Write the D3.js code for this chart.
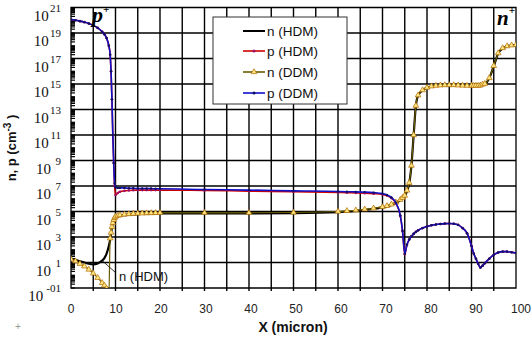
<!DOCTYPE html>
<html><head><meta charset="utf-8">
<script src="https://cdn.jsdelivr.net/npm/d3@7"></script>
<style>body{margin:0;background:#fff}svg{display:block}</style>
</head><body>
<svg id="c" width="531" height="345"></svg>
<script>
const xMicron = [0,1,2,3,4,5,6,7,7.5,8,8.5,8.8,9,9.2,9.4,9.6,9.8,10,10.5,11,12,13,14,15,16,17,18,19,20,30,40,50,60,62,64,66,68,70,71,72,73,74,74.5,75,75.5,76,76.5,77,77.5,78,79,80,81,82,83,84,85,86,87,88,89,90,90.5,91,91.5,92,92.5,93,94,95,96,97,98,99,100];
const nHDM = [1.3,1.2,1.1,1.0,0.9,0.85,0.92,1.15,1.35,1.7,2.3,2.8,3.3,3.75,4.05,4.3,4.45,4.55,4.62,4.67,4.72,4.75,4.78,4.8,4.81,4.82,4.83,4.84,4.85,4.85,4.85,4.87,4.95,5.0,5.05,5.12,5.2,5.32,5.4,5.52,5.68,5.9,6.05,6.2,6.6,7.2,8.6,11.0,13.3,14.1,14.5,14.7,14.8,14.85,14.88,14.9,14.9,14.9,14.88,14.86,14.85,14.85,14.85,14.85,14.85,14.87,14.95,15.0,15.45,16.4,17.4,17.8,17.95,18.02,18.05];
const pHDM = [20.05,20.0,19.93,19.85,19.75,19.6,19.4,19.1,18.9,18.6,18.0,17.3,16.0,13.8,11.0,8.8,7.0,6.3,6.45,6.55,6.62,6.65,6.67,6.68,6.68,6.68,6.68,6.68,6.68,6.65,6.6,6.55,6.5,6.48,6.46,6.44,6.4,6.33,6.25,6.05,5.65,4.65,3.45,1.65,2.4,2.8,3.05,3.25,3.4,3.52,3.7,3.82,3.92,3.98,4.02,4.05,4.06,4.04,3.95,3.7,3.3,2.3,1.7,1.3,0.9,0.6,0.75,0.95,1.3,1.6,1.78,1.85,1.85,1.8,1.75];
const nDDM = [1.25,1.1,0.9,0.7,0.45,0.15,-0.2,-0.6,-0.8,-1.05,-1.6,2.9,3.35,3.8,4.1,4.35,4.5,4.6,4.67,4.72,4.77,4.8,4.83,4.85,4.86,4.87,4.88,4.89,4.9,4.9,4.9,4.92,5.0,5.05,5.1,5.17,5.25,5.36,5.44,5.56,5.72,5.93,6.08,6.25,6.65,7.25,8.6,11.0,13.3,14.12,14.52,14.72,14.82,14.87,14.9,14.92,14.92,14.92,14.9,14.88,14.87,14.87,14.87,14.87,14.87,14.89,14.97,15.02,15.47,16.42,17.42,17.82,17.97,18.04,18.07];
const pDDM = [20.05,20.0,19.93,19.85,19.75,19.6,19.4,19.1,18.9,18.6,18.0,17.3,16.0,13.8,11.0,8.8,7.2,6.9,6.85,6.85,6.85,6.82,6.82,6.8,6.8,6.8,6.8,6.78,6.78,6.72,6.68,6.62,6.57,6.55,6.54,6.52,6.48,6.4,6.3,6.1,5.7,4.7,3.5,1.7,2.4,2.8,3.05,3.25,3.4,3.52,3.7,3.82,3.92,3.98,4.02,4.05,4.06,4.04,3.95,3.7,3.3,2.3,1.7,1.3,0.9,0.6,0.75,0.95,1.3,1.6,1.78,1.85,1.85,1.8,1.75];

const xTicks = [0,10,20,30,40,50,60,70,80,90,100];
const xGrid = [5,10,15,20,25,30,35,40,45,50,55,60,65,70,75,80,85,90,95];
const yExponents = [21,19,17,15,13,11,9,7,5,3,1,-1];
const yExpLabels = ["21","19","17","15","13","11","9","7","5","3","1","-01"];
const seriesNames = ["n (HDM)","p (HDM)","n (DDM)","p (DDM)"];

const svg = d3.select("#c");
const L = 71, R = 516, T = 7.5, B = 288;
const xs = d3.scaleLinear().domain([0,100]).range([L,R]);
const ys = d3.scaleLog().domain([1e-1,1e21]).range([B,T]);
const serif = "'Liberation Serif','Times New Roman',serif";
const sans = "'Liberation Sans',Arial,sans-serif";

svg.append("defs").append("clipPath").attr("id","clip")
  .append("rect").attr("x",L).attr("y",T).attr("width",R-L).attr("height",B-T);

// grid, built as individual line elements via data joins
const vg = svg.append("g").attr("stroke","#000").attr("stroke-width",1.4);
vg.selectAll("line").data(xGrid).enter().append("line")
  .attr("x1",d=>xs(d)).attr("x2",d=>xs(d)).attr("y1",T).attr("y2",B+3);
const hg = svg.append("g").attr("stroke","#000").attr("stroke-width",1.4);
hg.selectAll("line").data(yExponents.slice(1,-1)).enter().append("line")
  .attr("x1",L).attr("x2",R).attr("y1",d=>ys(Math.pow(10,d))).attr("y2",d=>ys(Math.pow(10,d)));
const minorVals = [];
for (let e=-1; e<21; e++) for (let k=1;k<10;k++) minorVals.push(k*Math.pow(10,e));
const mg = svg.append("g").attr("stroke","#000").attr("stroke-width",1.2);
mg.selectAll("line").data(minorVals).enter().append("line")
  .attr("x1",L).attr("x2",L+4).attr("y1",d=>ys(d)).attr("y2",d=>ys(d));

svg.append("path")
  .attr("d",`M${L},${T}H${R}V${B}H${L}Z`)
  .style("fill","none").style("stroke","#000").style("stroke-width","1.3px");

const yl = svg.append("g").attr("font-family",serif).attr("fill","#111");
yExponents.forEach((e,i)=>{
  const yy = ys(Math.pow(10,e));
  const lab = yExpLabels[i];
  const ew = lab.length*5.6;
  const tenEnd = Math.min(51, 61-ew-1);
  yl.append("text").attr("x",tenEnd).attr("y",yy+13).attr("text-anchor","end").attr("font-size",15).text("10");
  yl.append("text").attr("x",61).attr("y",yy+4).attr("text-anchor","end").attr("font-size",11).text(lab);
});

svg.append("g").selectAll("text").data(xTicks).join("text")
  .attr("x",d=>xs(d)+d*0.05).attr("y",313).attr("text-anchor","middle")
  .attr("font-family",sans).attr("font-size",12).attr("fill","#222").text(d=>d);

svg.append("text").attr("x",293).attr("y",332).attr("text-anchor","middle")
  .attr("font-family",sans).attr("font-weight","bold").attr("font-size",14).attr("fill","#111")
  .text("X  (micron)");
const yt = svg.append("text").attr("transform","translate(16,148) rotate(-90)")
  .attr("text-anchor","middle").attr("font-family",sans).attr("font-weight","bold")
  .attr("font-size",13).attr("fill","#111");
yt.append("tspan").text("n, p (cm");
yt.append("tspan").attr("dy",-5).attr("font-size",10).text("-3");
yt.append("tspan").attr("dy",5).text(" )");

svg.append("text").attr("x",18).attr("y",330).attr("text-anchor","middle")
  .attr("font-family",sans).attr("font-size",10).attr("fill","#999").text("+");

const plot = svg.append("g").attr("clip-path","url(#clip)");
const mk = arr => arr.map((v,i)=>[xMicron[i], Math.pow(10,v)]);
const lineGen = d3.line().x(d=>xs(d[0])).y(d=>ys(d[1])).curve(d3.curveMonotoneX);
const nH = mk(nHDM), pH = mk(pHDM), nD = mk(nDDM), pD = mk(pDDM);

plot.append("path").attr("d",lineGen(nH)).attr("fill","none").attr("stroke","#000").attr("stroke-width",2.2);
plot.append("path").attr("d",lineGen(nD)).attr("fill","none").attr("stroke","#6b5a00").attr("stroke-width",1.2);
const tri = d3.symbol().type(d3.symbolTriangle).size(14);
plot.append("g").selectAll("path").data(nD).join("path")
  .attr("transform",d=>`translate(${xs(d[0])},${ys(d[1])})`).attr("d",tri)
  .attr("fill","#ffe680").attr("stroke","#b06a00").attr("stroke-width",0.7);
plot.append("path").attr("d",lineGen(pH)).attr("fill","none").attr("stroke","#d00000").attr("stroke-width",1.6);
plot.append("g").selectAll("circle").data(pH).join("circle")
  .attr("cx",d=>xs(d[0])).attr("cy",d=>ys(d[1])).attr("r",1.3).attr("fill","#a0106a");
plot.append("path").attr("d",lineGen(pD)).attr("fill","none").attr("stroke","#1010c8").attr("stroke-width",1.6);
plot.append("g").selectAll("circle").data(pD).join("circle")
  .attr("cx",d=>xs(d[0])).attr("cy",d=>ys(d[1])).attr("r",1.2).attr("fill","#101060");

const ai = xMicron.indexOf(7);
svg.append("line").attr("x1",116).attr("y1",273).attr("x2",xs(xMicron[ai])).attr("y2",ys(Math.pow(10,nHDM[ai])))
  .attr("stroke","#000").attr("stroke-width",0.8);
svg.append("text").attr("x",119).attr("y",281).attr("font-family",sans).attr("font-size",13)
  .attr("fill","#111").text("n (HDM)");

const pp = svg.append("text").attr("x",92).attr("y",22).attr("font-family",serif)
  .attr("font-style","italic").attr("font-weight","bold").attr("font-size",22).attr("fill","#000");
pp.append("tspan").text("p");
pp.append("tspan").attr("dy",-9).attr("font-size",11).text("+");
const nn = svg.append("text").attr("x",497).attr("y",25).attr("font-family",serif)
  .attr("font-style","italic").attr("font-weight","bold").attr("font-size",21).attr("fill","#000");
nn.append("tspan").text("n");
nn.append("tspan").attr("dy",-11).attr("font-size",11).text("+");

const lg = svg.append("g");
lg.append("rect").attr("x",213).attr("y",17).attr("width",134).attr("height",87)
  .attr("fill","#fff").attr("stroke","#333").attr("stroke-width",1);
const legY = [31,51,72,93];
const legColor = ["#000","#d00000","#6b5a00","#1010c8"];
seriesNames.forEach((s,i)=>{
  const yy = legY[i];
  lg.append("line").attr("x1",243).attr("x2",265).attr("y1",yy).attr("y2",yy)
    .attr("stroke",legColor[i]).attr("stroke-width",i===0?2:1.6);
  if (i===1) lg.append("circle").attr("cx",254).attr("cy",yy).attr("r",1.5).attr("fill","#a0106a");
  if (i===2) lg.append("path").attr("transform",`translate(254,${yy})`).attr("d",tri)
    .attr("fill","#ffe680").attr("stroke","#b06a00").attr("stroke-width",0.7);
  if (i===3) lg.append("circle").attr("cx",254).attr("cy",yy).attr("r",1.5).attr("fill","#101060");
  lg.append("text").attr("x",267).attr("y",yy+5).attr("font-family",sans).attr("font-size",13.5)
    .attr("fill","#111").text(s);
});
</script>
</body></html>
